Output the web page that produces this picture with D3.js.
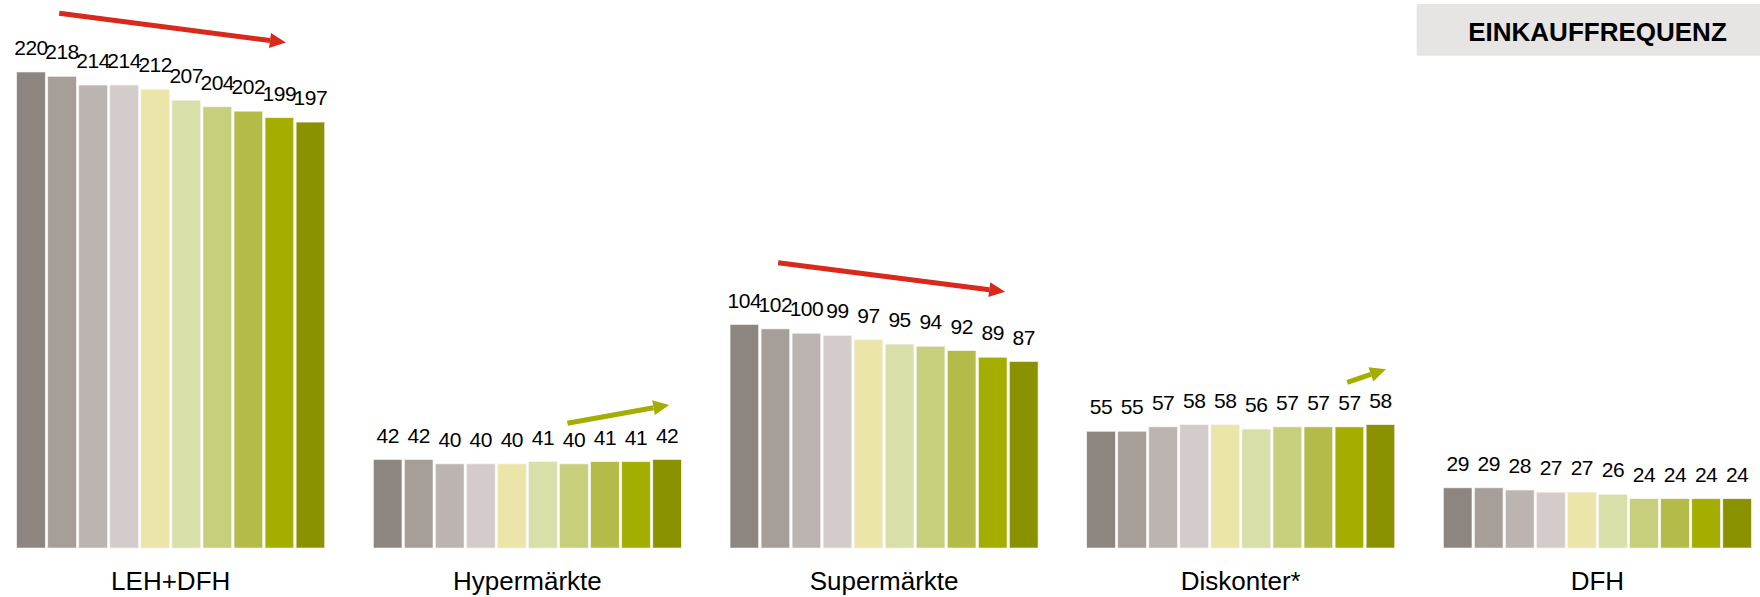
<!DOCTYPE html>
<html>
<head>
<meta charset="utf-8">
<script src="https://cdn.jsdelivr.net/npm/d3@7/dist/d3.min.js"></script>
<style>
  html, body { margin: 0; padding: 0; background: #fff; }
  svg { display: block; font-family: "Liberation Sans", Arial, Helvetica, sans-serif; }
</style>
</head>
<body>
<svg id="chart" width="1760" height="597"></svg>
<script>
// ---- data ----
const categories = ["LEH+DFH", "Hypermärkte", "Supermärkte", "Diskonter*", "DFH"];
const periods = ["P1","P2","P3","P4","P5","P6","P7","P8","P9","P10"];
const valuesLEH   = [220, 218, 214, 214, 212, 207, 204, 202, 199, 197];
const valuesHyper = [42, 42, 40, 40, 40, 41, 40, 41, 41, 42];
const valuesSuper = [104, 102, 100, 99, 97, 95, 94, 92, 89, 87];
const valuesDisk  = [55, 55, 57, 58, 58, 56, 57, 57, 57, 58];
const valuesDFH   = [29, 29, 28, 27, 27, 26, 24, 24, 24, 24];
const seriesValues = [valuesLEH, valuesHyper, valuesSuper, valuesDisk, valuesDFH];
const barColors = ["#8d8580", "#a69e99", "#bcb4b1", "#d4cccb", "#ebe5a9",
                   "#d8dfa9", "#c7cf7d", "#b4bc49", "#a4ae00", "#8a9200"];
const title = "EINKAUFFREQUENZ";
// trend arrows: group, from [bar index, value], to [bar index, value]
const trendArrows = [
  { group: "LEH+DFH",     from: [0.91, 247],   to: [8.21, 233.5], color: "#d9291c" },
  { group: "Hypermärkte", from: [5.79, 58.7],  to: [9.07, 67.1],  color: "#a4ae00" },
  { group: "Supermärkte", from: [1.09, 132.4], to: [8.40, 119.1], color: "#d9291c" },
  { group: "Diskonter*",  from: [7.93, 77.5],  to: [9.18, 83.5],  color: "#a4ae00" }
];

// ---- layout ----
const svg = d3.select("#chart");
const baseline = 548;

const x0 = d3.scaleBand().domain(categories).range([16.7, 1751.4]).paddingInner(0.1365).paddingOuter(0);
const x1 = d3.scaleBand().domain(periods).range([0, x0.bandwidth()]).paddingInner(0.08).paddingOuter(0);
const y = d3.scaleLinear().domain([0, 220]).range([551, 72]);
const color = d3.scaleOrdinal().domain(periods).range(barColors);

// title box
svg.append("rect").attr("x", 1416.7).attr("y", 4).attr("width", 360).attr("height", 51.7).attr("fill", "#e6e5e3");
svg.append("text").attr("x", 1597.5).attr("y", 40.5).attr("text-anchor", "middle")
  .attr("font-size", 26).attr("font-weight", "bold").attr("fill", "#000").text(title);

// groups
const groups = svg.selectAll("g.grp").data(categories).join("g")
  .attr("class", "grp").attr("transform", d => `translate(${x0(d)},0)`);

groups.each(function(cat, gi) {
  const g = d3.select(this);
  const rows = periods.map((p, i) => ({ p, v: seriesValues[gi][i] }));
  g.selectAll("rect.bar").data(rows).join("rect").attr("class", "bar")
    .attr("x", d => x1(d.p)).attr("width", x1.bandwidth())
    .attr("y", d => y(d.v)).attr("height", d => baseline - y(d.v))
    .attr("fill", d => color(d.p))
    .attr("stroke", "#f4f2ee").attr("stroke-width", 0.6);
  g.selectAll("text.val").data(rows).join("text").attr("class", "val")
    .attr("x", d => x1(d.p) + x1.bandwidth() / 2)
    .attr("y", d => y(d.v) - 17)
    .attr("text-anchor", "middle").attr("font-size", 21).attr("fill", "#000")
    .attr("letter-spacing", -0.5)
    .text(d => d.v);
});

// category axis labels
const xAxis = d3.axisBottom(x0).tickSize(0).tickPadding(0);
const axG = svg.append("g").attr("transform", `translate(0,${baseline})`).call(xAxis);
axG.select(".domain").remove();
axG.selectAll("text").attr("font-size", 26).attr("fill", "#000")
  .attr("font-family", "'Liberation Sans', Arial, sans-serif")
  .attr("dy", null).attr("y", 42);

// arrows
const barX = (grp, idx) => x0(grp) + idx * x1.step() + x1.bandwidth() / 2;
trendArrows.forEach(a => {
  const xs = barX(a.group, a.from[0]), ys = y(a.from[1]);
  const xe = barX(a.group, a.to[0]),   ye = y(a.to[1]);
  const ang = Math.atan2(ye - ys, xe - xs);
  const headL = 16, headW = 7.5;
  const bx = xe - headL * Math.cos(ang), by = ye - headL * Math.sin(ang);
  svg.append("line").attr("x1", xs).attr("y1", ys).attr("x2", bx).attr("y2", by)
    .attr("stroke", a.color).attr("stroke-width", 5);
  const px = -Math.sin(ang), py = Math.cos(ang);
  svg.append("polygon")
    .attr("points", [[xe, ye], [bx + px * headW, by + py * headW], [bx - px * headW, by - py * headW]].map(p => p.join(",")).join(" "))
    .attr("fill", a.color);
});
</script>
</body>
</html>
